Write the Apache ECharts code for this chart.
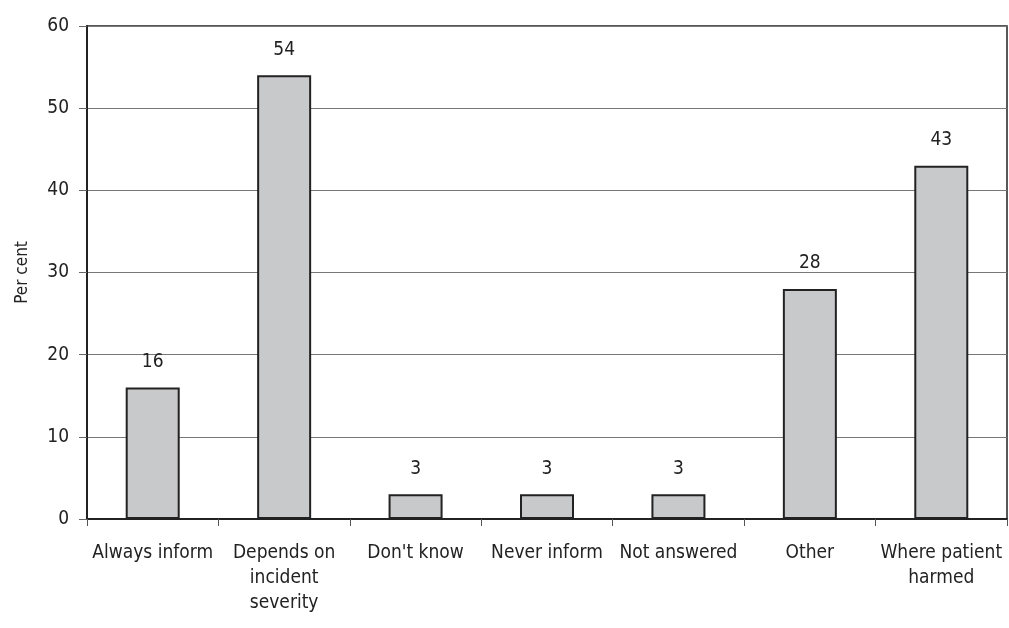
<!DOCTYPE html>
<html>
<head>
<meta charset="utf-8">
<script src="https://cdn.jsdelivr.net/npm/echarts@6/dist/echarts.min.js"></script>
<style>
  html, body { margin: 0; padding: 0; background: #fff; }
  #chart { width: 1009px; height: 628px; }
</style>
</head>
<body>
<div id="chart"></div>
<script>
// Responses: what staff do about informing patients
const categories = [
  'Always inform',
  'Depends on\nincident\nseverity',
  "Don't know",
  'Never inform',
  'Not answered',
  'Other',
  'Where patient\nharmed'
];
const percentValues = [16, 54, 3, 3, 3, 28, 43];
const yTicks = { min: 0, max: 60, interval: 10 };

const FONT = '"Liberation Sans Narrow", "DejaVu Sans Condensed", "Arial Narrow", sans-serif';

const chart = echarts.init(document.getElementById('chart'), null, { renderer: 'canvas' });
chart.setOption({
  animation: false,
  backgroundColor: '#ffffff',
  grid: {
    left: 87, right: 2, top: 26, bottom: 109,
    show: true, borderColor: '#222', borderWidth: 1.5, backgroundColor: 'transparent'
  },
  xAxis: {
    type: 'category',
    data: categories,
    axisLine: { show: true, lineStyle: { color: '#222', width: 2 } },
    axisTick: { show: true, length: 7, alignWithLabel: false, lineStyle: { color: '#555', width: 1 } },
    axisLabel: {
      interval: 0, margin: 22, color: '#222',
      fontFamily: FONT, fontSize: 19, lineHeight: 25
    }
  },
  yAxis: {
    type: 'value',
    min: yTicks.min, max: yTicks.max, interval: yTicks.interval,
    name: 'Per cent',
    nameLocation: 'middle',
    nameGap: 56,
    nameTextStyle: { fontFamily: FONT, fontSize: 17, color: '#222' },
    axisLine: { show: true, lineStyle: { color: '#222', width: 2 } },
    axisTick: { show: true, length: 8, lineStyle: { color: '#666', width: 1 } },
    axisLabel: { color: '#222', fontFamily: FONT, fontSize: 19, margin: 18 },
    splitLine: { show: true, lineStyle: { color: '#777', width: 1 } }
  },
  series: [{
    type: 'bar',
    data: percentValues,
    barWidth: 54,
    itemStyle: { color: '#c8c9cb', borderColor: '#222', borderWidth: 2 },
    label: {
      show: true, position: 'top', distance: 16,
      color: '#222', fontFamily: FONT, fontSize: 19
    }
  }]
});
</script>
</body>
</html>
